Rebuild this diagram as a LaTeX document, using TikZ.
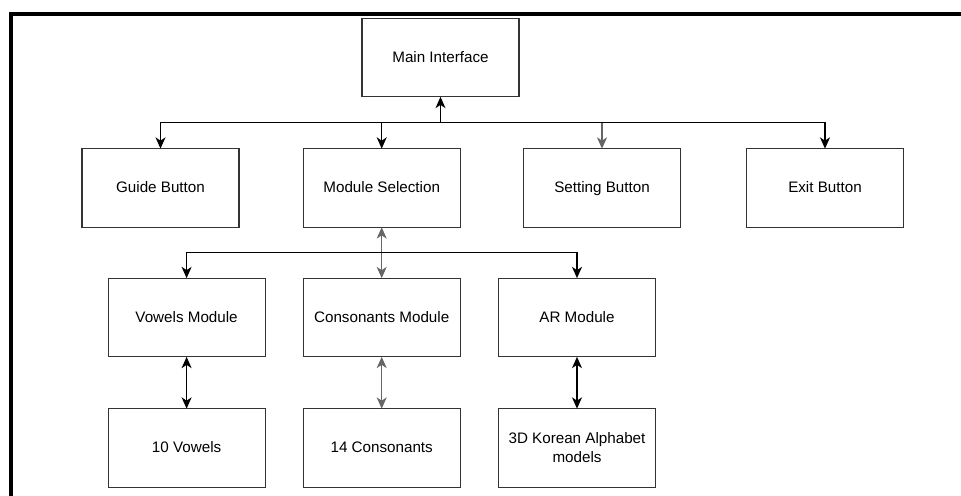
\documentclass[tikz,border=0pt]{standalone}
\usepackage{fontspec}
\setmainfont{Liberation Sans}
\usetikzlibrary{arrows.meta}
\tikzset{
  >={Stealth[length=8.5pt,width=7.5pt,inset=2.5pt]},
  block/.style={
    shape = rectangle,
    draw = black!80,
    line width = 0.9pt,
    minimum width = 117.75pt,
    minimum height = 59pt,
    inner sep = 0pt,
    outer sep = 0pt,
    align = center,
    text height = 0.72em,
    text depth = 0pt,
    font = \fontsize{11.4}{14.25}\selectfont
  },
  link/.style={
    line width = 1.1pt,
    ->
  },
  dlink/.style={
    line width = 1.1pt,
    <->
  },
  greylink/.style={
    draw = black!60,
    line width = 0.8pt
  },
  frame/.style={
    line width = 3pt
  },
}

\begin{document}
\begin{tikzpicture}[x=0.75pt,y=-0.75pt]
\useasboundingbox (0,0) rectangle (961,496);
\draw[frame] (961,13.5) -- (10.5,13.5) -- (10.5,496);
% top
\node[block] (main) at (440.5,57.5) {Main Interface};
\node[block] (guide) at (160.5,188) {Guide Button};
\node[block] (modsel) at (381.7,188) {Module Selection};
\node[block] (setting) at (602,188) {Setting Button};
\node[block] (exit) at (825,188) {Exit Button};
% modules
\node[block] (vowels) at (186.6,317.5) {Vowels Module};
\node[block] (cons) at (381.7,317.5) {Consonants Module};
\node[block] (ar) at (577,317.5) {AR Module};
% contents
\node[block] (tenv) at (186.6,448) {10 Vowels};
\node[block] (fourc) at (381.7,448) {14 Consonants};
\node[block, text height={}, text depth={}] (models) at (577,448) {3D Korean Alphabet\\models};

\coordinate (hub) at (440.5,122.7);
\draw[link] (hub) -- (main);
\draw[link,greylink] (hub) -| (setting);
\foreach \n in {guide,modsel,exit}{
  \draw[link] (hub) -| (\n); }
\coordinate (hubB) at (381.7,252.7);
\draw[dlink,greylink] (modsel) -- (cons);
\foreach \n in {vowels,ar}{
  \draw[link] (hubB) -| (\n); }
\draw[dlink] (vowels) -- (tenv);
\draw[dlink,greylink] (cons) -- (fourc);
\draw[dlink] (ar) -- (models);
\end{tikzpicture}
\end{document}
